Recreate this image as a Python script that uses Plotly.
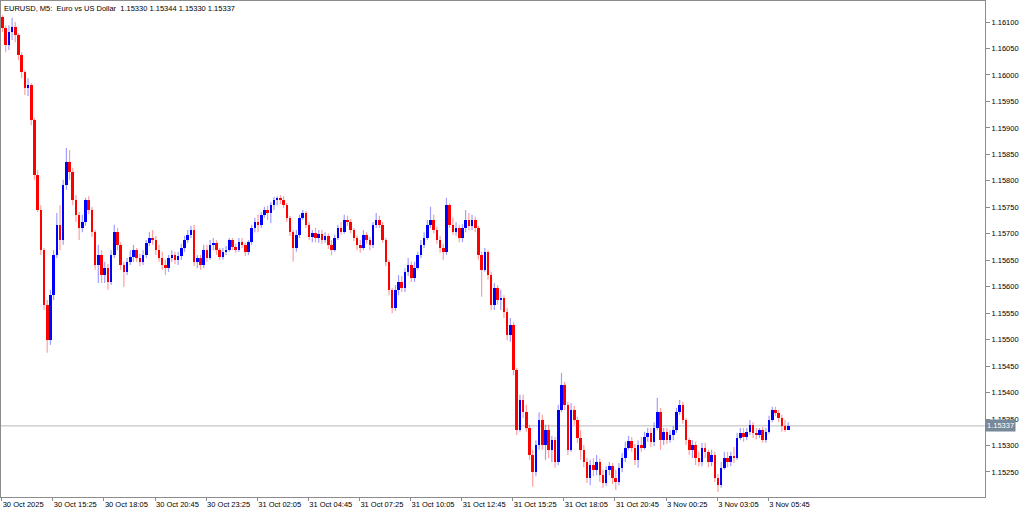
import plotly.graph_objects as go

# ---------------- data (EURUSD, candles of two M5 slots each) ----------------
title_text = "EURUSD, M5:\u00a0\u00a0Euro vs US Dollar\u00a0\u00a01.15330 1.15344 1.15330 1.15337"
first_open = 1.16109

closes = [
    1.16089, 1.16057, 1.16081, 1.16091, 1.16076, 1.16038, 1.16006, 1.15975, 1.15981, 1.15915,
    1.15811, 1.15745, 1.15669, 1.15566, 1.15499, 1.15584, 1.15660, 1.15717, 1.15688, 1.15792,
    1.15836, 1.15817, 1.15764, 1.15736, 1.15711, 1.15722, 1.15764, 1.15745, 1.15703, 1.15641,
    1.15660, 1.15622, 1.15635, 1.15609, 1.15660, 1.15703, 1.15679, 1.15641, 1.15628, 1.15647,
    1.15656, 1.15669, 1.15654, 1.15647, 1.15660, 1.15683, 1.15692, 1.15688, 1.15669, 1.15654,
    1.15641, 1.15635, 1.15654, 1.15660, 1.15651, 1.15658, 1.15673, 1.15688, 1.15698, 1.15707,
    1.15647, 1.15654, 1.15641, 1.15669, 1.15654, 1.15679, 1.15683, 1.15669, 1.15656, 1.15666,
    1.15669, 1.15688, 1.15675, 1.15669, 1.15684, 1.15679, 1.15666, 1.15684, 1.15711, 1.15722,
    1.15717, 1.15736, 1.15745, 1.15739, 1.15754, 1.15764, 1.15768, 1.15764, 1.15754, 1.15730,
    1.15703, 1.15673, 1.15698, 1.15730, 1.15739, 1.15717, 1.15694, 1.15701, 1.15692, 1.15700,
    1.15688, 1.15696, 1.15679, 1.15669, 1.15692, 1.15711, 1.15703, 1.15726, 1.15722, 1.15707,
    1.15692, 1.15679, 1.15673, 1.15698, 1.15688, 1.15679, 1.15717, 1.15726, 1.15717, 1.15688,
    1.15647, 1.15594, 1.15560, 1.15594, 1.15609, 1.15598, 1.15628, 1.15641, 1.15616, 1.15635,
    1.15660, 1.15679, 1.15692, 1.15717, 1.15726, 1.15707, 1.15688, 1.15673, 1.15666, 1.15754,
    1.15717, 1.15703, 1.15711, 1.15692, 1.15711, 1.15726, 1.15715, 1.15726, 1.15711, 1.15660,
    1.15632, 1.15666, 1.15622, 1.15566, 1.15598, 1.15575, 1.15579, 1.15552, 1.15509, 1.15528,
    1.15443, 1.15329, 1.15386, 1.15363, 1.15333, 1.15282, 1.15250, 1.15301, 1.15348, 1.15301,
    1.15329, 1.15292, 1.15310, 1.15269, 1.15367, 1.15414, 1.15377, 1.15292, 1.15367, 1.15348,
    1.15314, 1.15292, 1.15269, 1.15239, 1.15263, 1.15254, 1.15269, 1.15244, 1.15229, 1.15254,
    1.15261, 1.15239, 1.15231, 1.15258, 1.15276, 1.15295, 1.15309, 1.15295, 1.15273, 1.15301,
    1.15295, 1.15316, 1.15324, 1.15307, 1.15333, 1.15363, 1.15310, 1.15326, 1.15310, 1.15320,
    1.15329, 1.15363, 1.15377, 1.15348, 1.15310, 1.15292, 1.15301, 1.15276, 1.15269, 1.15295,
    1.15288, 1.15269, 1.15282, 1.15239, 1.15225, 1.15258, 1.15276, 1.15269, 1.15280, 1.15276,
    1.15314, 1.15324, 1.15316, 1.15326, 1.15339, 1.15324, 1.15320, 1.15329, 1.15310, 1.15326,
    1.15348, 1.15367, 1.15361, 1.15352, 1.15337, 1.15330, 1.15337,
]

highs = [
    1.16113, 1.16094, 1.16094, 1.16108, 1.16100, 1.16079, 1.16043, 1.16009, 1.15994, 1.15985,
    1.15919, 1.15820, 1.15754, 1.15673, 1.15575, 1.15594, 1.15669, 1.15739, 1.15754, 1.15802,
    1.15862, 1.15858, 1.15824, 1.15773, 1.15741, 1.15736, 1.15768, 1.15771, 1.15751, 1.15707,
    1.15679, 1.15669, 1.15647, 1.15643, 1.15669, 1.15717, 1.15711, 1.15684, 1.15647, 1.15654,
    1.15669, 1.15679, 1.15673, 1.15662, 1.15669, 1.15688, 1.15703, 1.15707, 1.15696, 1.15679,
    1.15666, 1.15651, 1.15660, 1.15669, 1.15666, 1.15666, 1.15681, 1.15696, 1.15707, 1.15715,
    1.15717, 1.15660, 1.15660, 1.15679, 1.15679, 1.15688, 1.15692, 1.15688, 1.15673, 1.15673,
    1.15677, 1.15692, 1.15692, 1.15681, 1.15692, 1.15692, 1.15683, 1.15688, 1.15717, 1.15730,
    1.15736, 1.15741, 1.15751, 1.15753, 1.15760, 1.15770, 1.15771, 1.15773, 1.15771, 1.15758,
    1.15734, 1.15707, 1.15707, 1.15736, 1.15745, 1.15743, 1.15722, 1.15707, 1.15711, 1.15707,
    1.15707, 1.15703, 1.15701, 1.15688, 1.15698, 1.15717, 1.15722, 1.15736, 1.15734, 1.15728,
    1.15711, 1.15696, 1.15688, 1.15707, 1.15703, 1.15694, 1.15722, 1.15739, 1.15734, 1.15722,
    1.15692, 1.15651, 1.15598, 1.15603, 1.15622, 1.15620, 1.15635, 1.15654, 1.15647, 1.15647,
    1.15666, 1.15688, 1.15703, 1.15726, 1.15751, 1.15736, 1.15713, 1.15696, 1.15681, 1.15768,
    1.15758, 1.15730, 1.15722, 1.15717, 1.15718, 1.15745, 1.15739, 1.15736, 1.15732, 1.15715,
    1.15666, 1.15673, 1.15669, 1.15628, 1.15607, 1.15603, 1.15594, 1.15584, 1.15560, 1.15541,
    1.15533, 1.15447, 1.15396, 1.15396, 1.15377, 1.15339, 1.15292, 1.15310, 1.15363, 1.15358,
    1.15339, 1.15339, 1.15318, 1.15316, 1.15377, 1.15437, 1.15420, 1.15382, 1.15380, 1.15375,
    1.15354, 1.15329, 1.15301, 1.15276, 1.15273, 1.15276, 1.15282, 1.15276, 1.15254, 1.15261,
    1.15269, 1.15267, 1.15254, 1.15267, 1.15286, 1.15307, 1.15318, 1.15316, 1.15303, 1.15310,
    1.15316, 1.15326, 1.15333, 1.15333, 1.15344, 1.15390, 1.15371, 1.15333, 1.15333, 1.15329,
    1.15337, 1.15371, 1.15386, 1.15382, 1.15352, 1.15314, 1.15310, 1.15307, 1.15288, 1.15305,
    1.15305, 1.15292, 1.15292, 1.15288, 1.15246, 1.15269, 1.15288, 1.15288, 1.15288, 1.15297,
    1.15324, 1.15333, 1.15333, 1.15333, 1.15348, 1.15344, 1.15333, 1.15333, 1.15335, 1.15333,
    1.15356, 1.15373, 1.15373, 1.15367, 1.15358, 1.15348, 1.15344,
]

lows = [
    1.16081, 1.16043, 1.16047, 1.16066, 1.16062, 1.16028, 1.15994, 1.15962, 1.15960, 1.15905,
    1.15802, 1.15741, 1.15660, 1.15556, 1.15475, 1.15490, 1.15575, 1.15654, 1.15669, 1.15679,
    1.15783, 1.15802, 1.15754, 1.15722, 1.15688, 1.15703, 1.15715, 1.15737, 1.15694, 1.15632,
    1.15607, 1.15607, 1.15607, 1.15594, 1.15603, 1.15654, 1.15669, 1.15632, 1.15600, 1.15622,
    1.15641, 1.15647, 1.15647, 1.15639, 1.15641, 1.15654, 1.15677, 1.15679, 1.15660, 1.15647,
    1.15632, 1.15622, 1.15628, 1.15647, 1.15643, 1.15641, 1.15651, 1.15666, 1.15683, 1.15692,
    1.15639, 1.15635, 1.15632, 1.15635, 1.15647, 1.15651, 1.15669, 1.15660, 1.15651, 1.15651,
    1.15660, 1.15666, 1.15669, 1.15664, 1.15666, 1.15673, 1.15658, 1.15660, 1.15679, 1.15703,
    1.15703, 1.15711, 1.15730, 1.15726, 1.15720, 1.15745, 1.15754, 1.15756, 1.15749, 1.15722,
    1.15696, 1.15647, 1.15666, 1.15692, 1.15726, 1.15711, 1.15688, 1.15684, 1.15684, 1.15683,
    1.15681, 1.15683, 1.15671, 1.15660, 1.15666, 1.15688, 1.15698, 1.15700, 1.15715, 1.15701,
    1.15686, 1.15669, 1.15664, 1.15669, 1.15681, 1.15669, 1.15673, 1.15711, 1.15711, 1.15683,
    1.15639, 1.15584, 1.15550, 1.15554, 1.15584, 1.15590, 1.15590, 1.15620, 1.15609, 1.15609,
    1.15632, 1.15654, 1.15673, 1.15688, 1.15711, 1.15701, 1.15681, 1.15664, 1.15651, 1.15660,
    1.15711, 1.15698, 1.15696, 1.15684, 1.15684, 1.15703, 1.15707, 1.15707, 1.15703, 1.15651,
    1.15581, 1.15628, 1.15613, 1.15556, 1.15556, 1.15566, 1.15556, 1.15541, 1.15499, 1.15496,
    1.15433, 1.15320, 1.15326, 1.15352, 1.15326, 1.15273, 1.15222, 1.15242, 1.15292, 1.15292,
    1.15273, 1.15276, 1.15269, 1.15258, 1.15263, 1.15363, 1.15367, 1.15282, 1.15288, 1.15339,
    1.15305, 1.15273, 1.15259, 1.15229, 1.15225, 1.15242, 1.15244, 1.15231, 1.15220, 1.15224,
    1.15244, 1.15227, 1.15216, 1.15225, 1.15250, 1.15269, 1.15292, 1.15288, 1.15263, 1.15258,
    1.15288, 1.15292, 1.15307, 1.15297, 1.15299, 1.15329, 1.15292, 1.15301, 1.15303, 1.15305,
    1.15310, 1.15324, 1.15358, 1.15341, 1.15301, 1.15282, 1.15276, 1.15263, 1.15261, 1.15261,
    1.15276, 1.15259, 1.15261, 1.15231, 1.15212, 1.15220, 1.15254, 1.15259, 1.15261, 1.15267,
    1.15273, 1.15310, 1.15307, 1.15310, 1.15320, 1.15314, 1.15312, 1.15314, 1.15305, 1.15305,
    1.15322, 1.15344, 1.15356, 1.15344, 1.15326, 1.15326, 1.15330,
]

slots_per_candle = 2          # each candle covers two M5 slots
time_ticks = [0, 32, 64, 96, 128, 160, 192, 224, 256, 288, 320, 352, 384, 416, 448, 480]
time_labels = ["30 Oct 2025", "30 Oct 15:25", "30 Oct 18:05", "30 Oct 20:45", "30 Oct 23:25",
               "31 Oct 02:05", "31 Oct 04:45", "31 Oct 07:25", "31 Oct 10:05", "31 Oct 12:45",
               "31 Oct 15:25", "31 Oct 18:05", "31 Oct 20:45", "3 Nov 00:25", "3 Nov 03:05",
               "3 Nov 05:45"]
price_ticks = [1.1525, 1.1530, 1.1535, 1.1540, 1.1545, 1.1550, 1.1555, 1.1560, 1.1565,
               1.1570, 1.1575, 1.1580, 1.1585, 1.1590, 1.1595, 1.1600, 1.1605, 1.1610]
last_price = 1.15337

# ---------------- build candles ----------------
n = min(len(closes), len(highs), len(lows))
opens = [first_open] + closes[:n - 1]
xs = [slots_per_candle * i + 0.5 for i in range(n)]

BULL = "#0000ff"
BEAR = "#ff0000"
min_body = 0.000012

bodies = {True: ([], [], []), False: ([], [], [])}
wicks = {True: ([], []), False: ([], [])}
for i in range(n):
    o, c = opens[i], closes[i]
    up = c >= o
    lo, hi = min(o, c), max(o, c)
    if hi - lo < min_body:
        mid = (hi + lo) / 2
        lo, hi = mid - min_body / 2, mid + min_body / 2
    bx, bb, bh = bodies[up]
    bx.append(xs[i]); bb.append(lo); bh.append(hi - lo)
    wx, wy = wicks[up]
    wx += [xs[i], xs[i], None]
    wy += [min(lows[i], o, c), max(highs[i], o, c), None]

fig = go.Figure()
for up, col in ((True, "rgba(0,0,255,0.38)"), (False, "rgba(255,0,0,0.38)")):
    wx, wy = wicks[up]
    fig.add_trace(go.Scatter(x=wx, y=wy, mode="lines", line=dict(color=col, width=1.2),
                             hoverinfo="skip", showlegend=False))
for up, col in ((True, BULL), (False, BEAR)):
    bx, bb, bh = bodies[up]
    fig.add_trace(go.Bar(x=bx, y=bh, base=bb, width=1.6,
                         marker=dict(color=col, line=dict(width=0)),
                         showlegend=False, hoverinfo="skip"))

FONT = "Liberation Sans, Arial, sans-serif"
AX = "#8c8c8c"

fig.add_shape(type="line", xref="paper", x0=0, x1=1, yref="y", y0=last_price, y1=last_price,
              line=dict(color="#b8b8b8", width=1), layer="below")

fig.add_annotation(xref="paper", yref="paper", x=0, y=1, xanchor="left", yanchor="top",
                   text=title_text, showarrow=False, xshift=1, yshift=-1,
                   font=dict(family=FONT, size=7.5, color="#000000"))
fig.add_annotation(xref="paper", yref="y", x=1, y=last_price, xanchor="left", yanchor="middle",
                   text=f"{last_price:.5f}", showarrow=False, bgcolor="#778899", borderpad=1,
                   xshift=0, font=dict(family=FONT, size=7.5, color="#ffffff"))

fig.update_layout(
    width=1024, height=511, autosize=False,
    margin=dict(l=1, r=39, t=1, b=14, autoexpand=False),
    paper_bgcolor="#ffffff", plot_bgcolor="#ffffff",
    barmode="overlay", bargap=0,
    showlegend=False,
    xaxis=dict(range=[-0.44, 615.7], tickmode="array", tickvals=time_ticks, ticktext=time_labels,
               tickangle=0, automargin=False,
               ticks="outside", ticklen=3, tickcolor=AX, showline=True, linecolor=AX, linewidth=1,
               mirror=True, showgrid=False, zeroline=False, ticklabelposition="outside right",
               tickfont=dict(family=FONT, size=7.5, color="#000000"), fixedrange=True),
    yaxis=dict(side="right", range=[1.152027, 1.161397], tickmode="array", tickvals=price_ticks,
               ticktext=[f"{v:.5f}" for v in price_ticks], ticks="outside", ticklen=4,
               automargin=False,
               tickcolor=AX, showline=True, linecolor=AX, linewidth=1, mirror=True,
               showgrid=False, zeroline=False,
               tickfont=dict(family=FONT, size=7.5, color="#000000"), fixedrange=True),
)

fig.write_html("out.html", config={"displayModeBar": False},
               post_script="document.body.style.margin='0';")
